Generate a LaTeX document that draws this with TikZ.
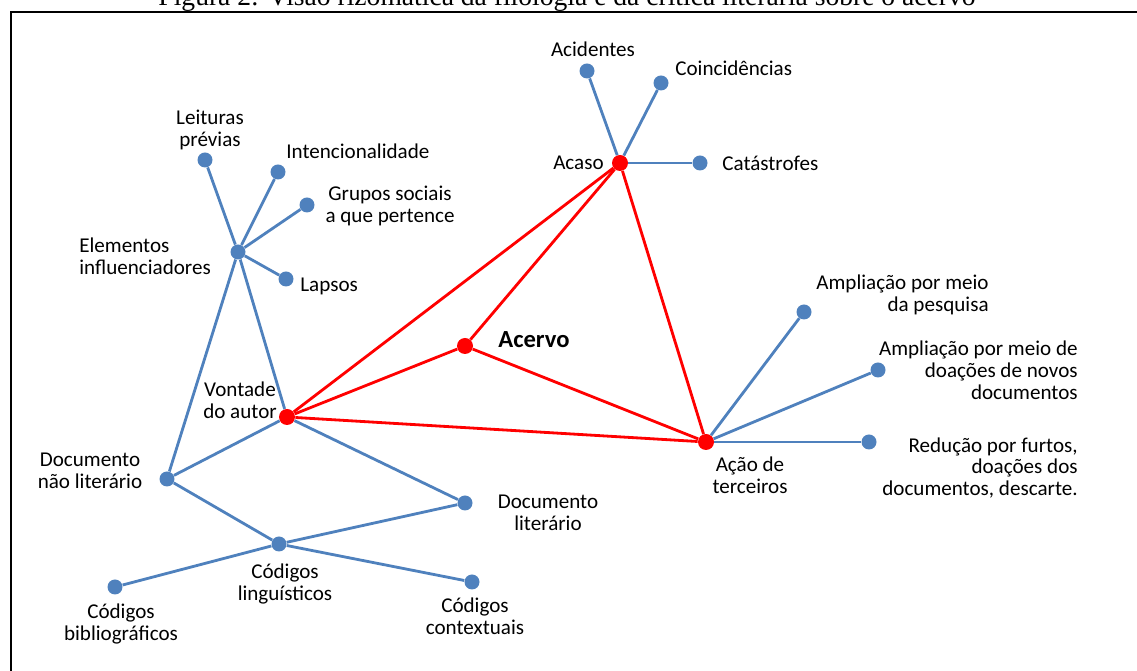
\documentclass[tikz,border=0pt]{standalone}
\usepackage{fontspec}
\setmainfont{Carlito}
\newfontfamily\titlefont{Liberation Serif}
\usetikzlibrary{positioning}
\definecolor{dotblue}{RGB}{79,129,189}
\definecolor{hubred}{RGB}{255,0,0}
\tikzset{
  bdot/.style={circle,fill=dotblue,inner sep=0pt,minimum size=0.30cm},
  rdot/.style={circle,fill=hubred,inner sep=0pt,minimum size=0.32cm},
  lbl/.style={inner sep=0pt,font=\fontsize{12}{12.5}\selectfont,align=center},
  bline/.style={draw=dotblue,line width=1.6pt},
  rline/.style={draw=hubred,line width=1.6pt},
}

\begin{document}
\begin{tikzpicture}[x=0.02cm,y=-0.02cm]
\useasboundingbox (0,0) rectangle (1137,671);
\coordinate (fr1) at (1150,12);
\coordinate (fr2) at (11,12);
\coordinate (fr3) at (11,690);
\draw[line width=1.4pt] (fr1) -- (fr2) -- (fr3);
\node (title) [anchor=base,inner sep=0pt,font=\titlefont\fontsize{15.7}{18}\selectfont] at (567,6) {Figura 2: Visão rizomática da filologia e da crítica literária sobre o acervo};
% hubs
\node (acaso) [rdot] at (620,163) {};
\node (acervo) [rdot] at (465,346) {};
\node (vont) [rdot] at (287,417) {};
\node (acao) [rdot] at (706,442) {};
% leaves
\node (acid) [bdot] at (587,71) {};
\node (coinc) [bdot] at (661,83) {};
\node (catas) [bdot] at (700,163) {};
\node (elem) [bdot] at (238,252) {};
\node (leit) [bdot] at (205,160) {};
\node (inten) [bdot] at (278,172) {};
\node (grupos) [bdot] at (307,205) {};
\node (lapsos) [bdot] at (286,279) {};
\node (docnl) [bdot] at (167,479) {};
\node (doclit) [bdot] at (465,503) {};
\node (codling) [bdot] at (279,544) {};
\node (codbib) [bdot] at (115,587) {};
\node (codctx) [bdot] at (472,582) {};
\node (ampl1) [bdot] at (804,312) {};
\node (ampl2) [bdot] at (878,370) {};
\node (redu) [bdot] at (869,442) {};
%
\node (acaso-l) [lbl,anchor=east] at (604,163) {Acaso};
\node (acervo-l) [inner sep=0pt,anchor=west,font=\fontsize{14}{16}\selectfont\bfseries] at (498,340) {Acervo};
\node (vont-l) [lbl] at (240,400) {Vontade\\do autor};
\node (acao-l) [lbl] at (750,475) {Ação de\\terceiros};
\node (acid-l) [lbl] at (593,49) {Acidentes};
\node (coinc-l) [lbl,anchor=west] at (675,68) {Coincidências};
\node (catas-l) [lbl,anchor=west] at (722,163) {Catástrofes};
\node (elem-l) [lbl,anchor=west,align=left] at (79,256) {Elementos\\influenciadores};
\node (leit-l) [lbl] at (210,130) {Leituras\\prévias};
\node (inten-l) [lbl,anchor=west] at (286,151) {Intencionalidade};
\node (grupos-l) [lbl] at (390,206) {Grupos sociais\\a que pertence};
\node (lapsos-l) [lbl,anchor=west] at (300,286) {Lapsos};
\node (docnl-l) [lbl] at (90,471) {Documento\\não literário};
\node (doclit-l) [lbl] at (548,513) {Documento\\literário};
\node (codling-l) [lbl] at (285,584) {Códigos\\linguísticos};
\node (codbib-l) [lbl] at (121,624) {Códigos\\bibliográficos};
\node (codctx-l) [lbl] at (475,616) {Códigos\\contextuais};
\node (ampl1-l) [lbl,anchor=east,align=right] at (989,295) {Ampliação por meio\\da pesquisa};
\node (ampl2-l) [lbl,anchor=east,align=right] at (1078,370) {Ampliação por meio de\\doações de novos\\documentos};
\node (redu-l) [lbl,anchor=east,align=right] at (1078,468) {Redução por furtos,\\doações dos\\documentos, descarte.};
%
\path[bline] (acaso) edge (acid) edge (coinc) edge (catas);
\path[bline] (elem) edge (leit) edge (inten) edge (grupos) edge (lapsos)
  edge (vont) edge (docnl);
\path[bline] (vont) edge (docnl) edge (doclit);
\path[bline] (codling) edge (docnl) edge (doclit) edge (codbib) edge (codctx);
\path[bline] (acao) edge (ampl1) edge (ampl2) edge (redu);
%
\path[rline] (vont) edge (acaso) edge (acervo) edge (acao);
\path[rline] (acervo) edge (acaso) edge (acao);
\path[rline] (acaso) edge (acao);
\end{tikzpicture}
\end{document}
